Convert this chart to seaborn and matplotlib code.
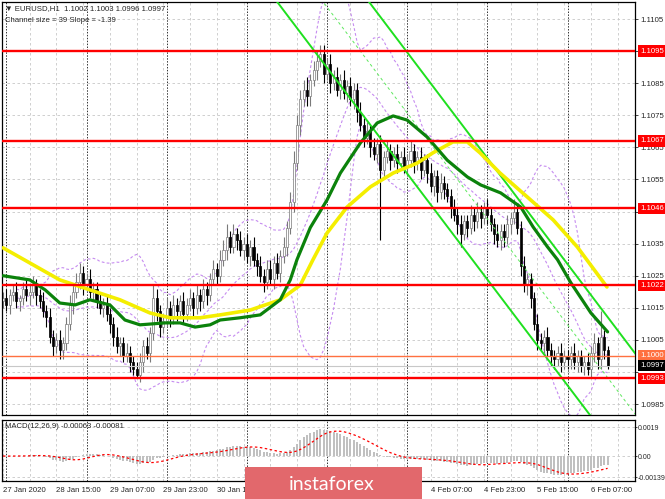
import numpy as np
import pandas as pd
import matplotlib
matplotlib.use('Agg')
import matplotlib.pyplot as plt
import matplotlib.transforms as mtransforms
from matplotlib.patches import Rectangle
import seaborn as sns

# EURUSD H1, 27 Jan 23:00 .. 6 Feb 12:00
first_open = 1.1017
closes = [
    1.1018, 1.1016, 1.1019, 1.1020, 1.1017, 1.1018, 1.1021, 1.1019, 1.1020, 1.1022,
    1.1019, 1.1017, 1.1014, 1.1012, 1.1006, 1.1003, 1.1005, 1.1002, 1.1004, 1.1010,
    1.1016, 1.1020, 1.1023, 1.1026, 1.1022, 1.1024, 1.1020, 1.1021, 1.1017, 1.1015,
    1.1016, 1.1013, 1.1010, 1.1006, 1.1003, 1.1004, 1.1000, 1.1001, 1.0998, 1.0996,
    1.0994, 1.0998, 1.1003, 1.1001, 1.1007, 1.1018, 1.1014, 1.1009, 1.1011, 1.1015,
    1.1012, 1.1016, 1.1014, 1.1017, 1.1013, 1.1016, 1.1018, 1.1015, 1.1019, 1.1017,
    1.1021, 1.1019, 1.1024, 1.1027, 1.1025, 1.1030, 1.1033, 1.1037, 1.1034, 1.1038,
    1.1036, 1.1033, 1.1035, 1.1031, 1.1034, 1.1030, 1.1028, 1.1025, 1.1023, 1.1027,
    1.1024, 1.1029, 1.1026, 1.1031, 1.1034, 1.1040, 1.1048, 1.1060, 1.1072, 1.1080,
    1.1083, 1.1081, 1.1086, 1.1089, 1.1092, 1.1094, 1.1088, 1.1091, 1.1085, 1.1087,
    1.1083, 1.1086, 1.1082, 1.1084, 1.1080, 1.1083, 1.1076, 1.1072, 1.1068, 1.1070,
    1.1065, 1.1063, 1.1066, 1.1058, 1.1062, 1.1064, 1.1061, 1.1063, 1.1060, 1.1062,
    1.1059, 1.1061, 1.1064, 1.1060, 1.1062, 1.1058, 1.1061, 1.1057, 1.1053, 1.1056,
    1.1051, 1.1054, 1.1052, 1.1050, 1.1046, 1.1044, 1.1041, 1.1038, 1.1042, 1.1040,
    1.1044, 1.1042, 1.1045, 1.1043, 1.1046, 1.1044, 1.1041, 1.1038, 1.1036, 1.1039,
    1.1037, 1.1041, 1.1043, 1.1045, 1.1040, 1.1028, 1.1022, 1.1024, 1.1018, 1.1010,
    1.1005, 1.1004, 1.1006, 1.1002, 1.1000, 1.0999, 1.1001, 1.0998, 1.1000, 1.0999,
    1.1001, 1.0998, 1.1000, 1.0997, 1.0998, 1.0996, 1.1001, 1.1004, 1.0999, 1.1006,
    1.1002, 1.0997,
]
# wick lengths beyond the body, in pips
wick_up = [
    2, 3, 2, 2, 3, 1, 2, 3, 2, 3,  2, 2, 3, 2, 3, 2, 2, 3, 2, 2,
    3, 2, 3, 3, 2, 2, 3, 2, 2, 3,  2, 3, 2, 2, 3, 2, 2, 3, 2, 2,
    2, 3, 2, 3, 2, 4, 3, 2, 2, 3,  2, 3, 2, 2, 3, 2, 3, 2, 3, 2,
    3, 2, 2, 3, 2, 3, 3, 4, 2, 3,  2, 3, 2, 3, 2, 3, 2, 3, 2, 3,
    3, 2, 3, 2, 3, 2, 3, 4, 3, 3,  3, 4, 2, 3, 3, 3, 3, 2, 3, 2,
    3, 2, 3, 2, 3, 2, 2, 3, 2, 3,  2, 3, 2, 3, 2, 3, 2, 2, 3, 2,
    3, 2, 3, 2, 2, 3, 2, 2, 3, 2,  2, 3, 2, 2, 2, 3, 2, 3, 2, 2,
    3, 2, 3, 2, 2, 3, 2, 2, 3, 2,  2, 3, 2, 4, 2, 2, 3, 2, 2, 2,
    3, 2, 2, 3, 2, 2, 2, 3, 2, 2,  2, 3, 2, 2, 2, 3, 2, 3, 2, 8,
    2, 1,
]
wick_dn = [
    2, 2, 3, 2, 2, 3, 2, 2, 3, 2,  3, 2, 2, 3, 2, 3, 2, 3, 3, 2,
    2, 3, 2, 2, 3, 2, 2, 3, 2, 2,  3, 2, 3, 3, 2, 3, 2, 2, 3, 2,
    1, 2, 3, 2, 3, 2, 3, 3, 2, 2,  3, 2, 3, 2, 3, 2, 2, 3, 2, 3,
    2, 3, 2, 2, 3, 2, 2, 3, 2, 2,  3, 2, 3, 2, 3, 2, 3, 2, 3, 2,
    2, 3, 2, 3, 2, 3, 2, 3, 2, 3,  2, 3, 3, 2, 3, 2, 3, 2, 3, 2,
    2, 3, 2, 3, 2, 3, 3, 2, 3, 2,  3, 2, 3, 22, 3, 2, 3, 2, 3, 2,
    2, 3, 2, 3, 2, 3, 2, 3, 2, 3,  3, 2, 3, 2, 3, 2, 3, 4, 2, 3,
    2, 3, 2, 3, 2, 3, 2, 3, 2, 3,  3, 2, 3, 2, 2, 3, 2, 3, 3, 2,
    3, 2, 3, 2, 3, 3, 2, 3, 2, 3,  3, 2, 3, 2, 3, 2, 3, 3, 3, 3,
    3, 1,
]

# moving averages as drawn on the chart (bar index, price)
green_bars = [0, 8, 12.6, 17, 21.6, 26, 32, 36.5, 41, 48.5, 53, 57.5, 62, 65, 71, 77,
              83, 86, 88, 92, 97, 101, 107, 112, 116.8, 121, 127, 133, 139, 143, 149,
              155, 158.7, 163, 166, 170, 176, 181]
green_ma = [1.1025, 1.10237, 1.10206, 1.10165, 1.10159, 1.10175, 1.10159, 1.10112,
            1.10097, 1.10103, 1.10103, 1.1009, 1.10097, 1.10112, 1.10119, 1.10128,
            1.10175, 1.10237, 1.1030, 1.1040, 1.10486, 1.1057, 1.10664, 1.10726,
            1.10748, 1.10735, 1.10682, 1.1061, 1.10558, 1.10533, 1.10508, 1.10464,
            1.10402, 1.1034, 1.1030, 1.10228, 1.10134, 1.10075]
yellow_bars = [0, 8, 17, 26, 35, 44, 50, 59, 65, 74, 83, 89, 92.8, 97, 103, 110, 116.8,
               124, 128.7, 134.7, 139, 142.8, 148.8, 157, 164.7, 171.9, 180.8]
yellow_ma = [1.10337, 1.1029, 1.10237, 1.10206, 1.10175, 1.10134, 1.10119, 1.10119,
             1.10128, 1.10143, 1.10175, 1.10221, 1.1030, 1.10383, 1.10464, 1.10527,
             1.1057, 1.10601, 1.10633, 1.10667, 1.10667, 1.10633, 1.1057, 1.10495,
             1.10424, 1.1034, 1.10215]

# regression channel end points (bar, price)
channel_bars = [60, 200]
channel_lower = [1.11407, 1.09482]
channel_mid = [1.11596, 1.09671]
channel_upper = [1.11785, 1.09860]

red_levels = [1.1095, 1.1067, 1.1046, 1.1022, 1.0993]
orange_level = 1.1000
bid_price = 1.0997

label_bars = [0, 16, 32, 48, 64, 80, 96, 112, 128, 144, 160, 176]
# labels at 80..112 sit under the watermark in the original
time_labels = ['27 Jan 2020', '28 Jan 15:00', '29 Jan 07:00', '29 Jan 23:00',
               '30 Jan 15:00', '', '', '',
               '4 Feb 07:00', '4 Feb 23:00', '5 Feb 15:00', '6 Feb 07:00']
day_starts = [1, 25, 49, 73, 97, 121, 145, 169]

sns.set_style('white')
plt.rcParams['font.family'] = ['Liberation Sans', 'DejaVu Sans']

df = pd.DataFrame({'close': closes})
df['bar'] = np.arange(len(df))
df['open'] = df['close'].shift(1).fillna(first_open)
df['high'] = df[['open', 'close']].max(axis=1) + np.array(wick_up) * 0.0001
df['low'] = df[['open', 'close']].min(axis=1) - np.array(wick_dn) * 0.0001
df['bull'] = df['close'] >= df['open']

mid = df['close'].rolling(20, min_periods=5).mean()
sd = df['close'].rolling(20, min_periods=5).std(ddof=0)
ema12 = df['close'].ewm(span=12, adjust=False).mean()
ema26 = df['close'].ewm(span=26, adjust=False).mean()
macd = ema12 - ema26
signal = macd.rolling(9, min_periods=1).mean()

fig = plt.figure(figsize=(6.65, 4.99), dpi=100)
ax = fig.add_axes([2/665, 84/499, 633/665, 413/499])
axm = fig.add_axes([2/665, 18/499, 633/665, 61/499])

xlim = (-0.3, 189.2)
grid_kw = dict(color='#c8c8c8', lw=0.6, ls=(0, (3, 3)))

# main price panel
ax.set_xlim(*xlim)
ax.set_ylim(1.09816, 1.11103)
yt = np.round(np.arange(1.0985, 1.1106, 0.001), 4)
ax.set_yticks(yt)
# labels hidden behind level boxes in the original are left blank
hidden = (1.0995, 1.1045, 1.1095)
ax.set_yticklabels(['' if round(v, 4) in hidden else f'{v:.4f}' for v in yt])
ax.yaxis.tick_right()
ax.set_xticks(range(8, 190, 8))
ax.tick_params(axis='x', length=0, labelbottom=False)
ax.tick_params(axis='y', labelsize=5.6, length=2, pad=2, width=0.6)
ax.grid(True, **grid_kw)
for b in day_starts:
    ax.axvline(b, color='#333333', lw=0.7, ls=(0, (1.5, 1.5)), zorder=0.5)

for band in [mid + 2 * sd, mid, mid - 2 * sd]:
    ax.plot(df['bar'], band, color='#c68cf0', lw=0.8, ls=(0, (2.5, 2)), zorder=1)

# candles
wick_col = np.where(df['bull'], '#7a7a7a', '#000000')
ax.vlines(df['bar'], df['low'], df['high'], colors=wick_col, lw=0.8, zorder=2)
body = (df['close'] - df['open']).abs().clip(lower=0.00004)
ax.bar(df['bar'], body, bottom=df[['open', 'close']].min(axis=1), width=0.62,
       color=np.where(df['bull'], '#ffffff', '#000000'),
       edgecolor=np.where(df['bull'], '#7a7a7a', '#000000'), lw=0.5, zorder=2.5)

ax.plot(channel_bars, channel_lower, color='#1fe01f', lw=1.4, zorder=3)
ax.plot(channel_bars, channel_upper, color='#1fe01f', lw=1.4, zorder=3)
ax.plot(channel_bars, channel_mid, color='#5ee85e', lw=0.7, ls=(0, (3, 3)), zorder=3)

sns.lineplot(x=yellow_bars, y=yellow_ma, ax=ax, color='#f4ee00', lw=2.6, zorder=4)
sns.lineplot(x=green_bars, y=green_ma, ax=ax, color='#0b820b', lw=2.3, zorder=4.2)

ax.axhline(bid_price, color='#c8c8c8', lw=0.8, zorder=4.5)
ax.axhline(orange_level, color='#ff7040', lw=1.0, zorder=4.6)
for lv in red_levels:
    ax.axhline(lv, color='#ff0000', lw=1.7, zorder=5)

trans = mtransforms.blended_transform_factory(ax.transAxes, ax.transData)
boxes = [(lv, '#ff0000') for lv in red_levels] + [(orange_level, '#ff7040'), (bid_price, '#000000')]
for lv, col in boxes:
    ax.text(1.0 + 5/633, lv, f'{lv:.4f}', transform=trans, ha='left', va='center',
            fontsize=5.6, color='white', clip_on=False, zorder=10,
            bbox=dict(boxstyle='square,pad=0.3', fc=col, ec='none'))

# MACD panel
axm.set_xlim(*xlim)
axm.set_ylim(-0.001638, 0.002359)
axm.bar(df['bar'], macd, width=0.6, color='#c0c0c0', edgecolor='none', lw=0, zorder=2)
axm.plot(df['bar'], signal, color='#ff0000', lw=0.9, ls=(0, (2, 2)), zorder=3)
axm.yaxis.tick_right()
axm.set_yticks([0.0019, 0.0, -0.00139])
axm.set_yticklabels(['0.0019', '0.00', '-0.00139'])
axm.set_xticks(range(8, 190, 8), minor=True)
axm.set_xticks(label_bars)
axm.set_xticklabels(time_labels, ha='left')
axm.tick_params(axis='x', which='major', labelsize=5.6, length=3, pad=1.5, width=0.6)
axm.tick_params(axis='x', which='minor', length=0)
axm.tick_params(axis='y', labelsize=5.0, length=1.5, pad=0.5, width=0.6)
axm.grid(True, which='both', **grid_kw)
for b in day_starts:
    axm.axvline(b, color='#333333', lw=0.7, ls=(0, (1.5, 1.5)), zorder=0.5)

for a in (ax, axm):
    for s in a.spines.values():
        s.set_color('black')
        s.set_linewidth(0.9)

fig.text(5/665, 1 - 9/499, '\u25bc EURUSD,H1  1.1002 1.1003 1.0996 1.0997',
         fontsize=5.6, va='center')
fig.text(5/665, 1 - 20/499, 'Channel size = 39 Slope = -1.39', fontsize=5.6, va='center')
fig.text(5/665, 1 - 427/499, 'MACD(12,26,9) -0.00063 -0.00081', fontsize=5.6, va='center')

# watermark
fig.patches.append(Rectangle((245/665, 0), 177/665, 32/499, transform=fig.transFigure,
                             facecolor='#e2686c', edgecolor='none', zorder=20))
fig.text(332/665, 15/499, 'instaforex', color='white', fontsize=14, family='Lato',
         ha='center', va='center', zorder=21)

fig.savefig('out.png', dpi=100)
